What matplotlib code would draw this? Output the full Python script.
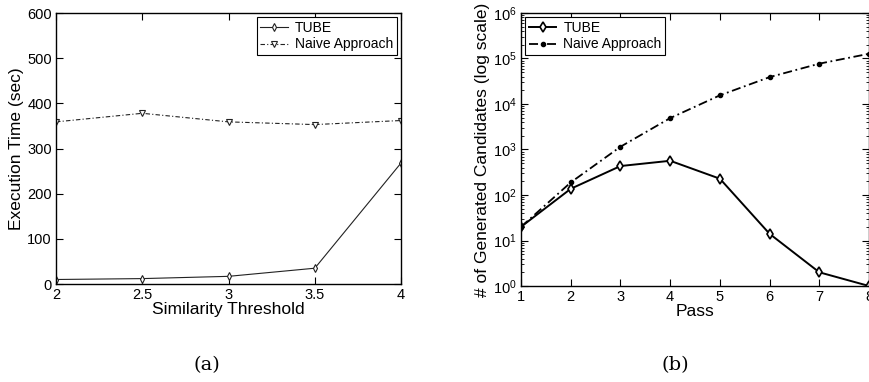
import numpy as np
import matplotlib.pyplot as plt
from matplotlib.ticker import LogLocator, NullFormatter

# (a) execution time vs similarity threshold
threshold = [2, 2.5, 3, 3.5, 4]
tube_time = [10, 12, 17, 35, 268]
naive_time = [359, 378, 359, 353, 362]

# (b) generated candidates per pass
passes = [1, 2, 3, 4, 5, 6, 7, 8]
tube_cand = [20, 137, 433, 565, 228, 14, 2, 1]
naive_cand = [20, 189, 1150, 4900, 15500, 39000, 77000, 127000]

plt.rcParams['font.family'] = ['Liberation Sans', 'DejaVu Sans']
plt.rcParams['mathtext.fontset'] = 'custom'
plt.rcParams['mathtext.rm'] = 'Liberation Sans'

fig = plt.figure(figsize=(8.7, 3.82), dpi=100)
ax1 = fig.add_axes([0.0644, 0.2565, 0.3966, 0.7094])
ax2 = fig.add_axes([0.5989, 0.2513, 0.4000, 0.7147])

# ---- (a)
ax1.plot(threshold, tube_time, color='#222222', lw=0.8, marker='d', ms=4,
         mfc='white', mec='#222222', mew=0.8, label='TUBE')
ax1.plot(threshold, naive_time, color='#222222', lw=0.8, dashes=(4, 2, 1, 2),
         marker='v', ms=4, mfc='white', mec='#222222', mew=0.8,
         label='Naive Approach')
ax1.set_xlim(2, 4)
ax1.set_ylim(0, 600)
ax1.set_xticks([2, 2.5, 3, 3.5, 4])
ax1.set_xticklabels(['2', '2.5', '3', '3.5', '4'])
ax1.set_yticks(np.arange(0, 601, 100))
ax1.set_xlabel('Similarity Threshold', fontsize=12.5, labelpad=0)
ax1.set_ylabel('Execution Time (sec)', fontsize=12.5, labelpad=2)
leg1 = ax1.legend(loc='upper right', fontsize=10, fancybox=False, edgecolor='black',
                  framealpha=1, borderaxespad=0.3, handlelength=2.0,
                  borderpad=0.25, labelspacing=0.2, handletextpad=0.5)
leg1.get_frame().set_linewidth(0.8)

# ---- (b)
ax2.semilogy(passes, tube_cand, color='black', lw=1.4, marker='d', ms=5.5,
             mfc='white', mec='black', mew=1.2, label='TUBE')
ax2.semilogy(passes, naive_cand, color='black', lw=1.3, dashes=(5, 2, 1, 2),
             marker='.', ms=6, label='Naive Approach')
ax2.set_xlim(1, 8)
ax2.set_ylim(1, 1e6)
ax2.set_xticks(passes)
ax2.yaxis.set_major_locator(LogLocator(base=10, numticks=10))
ax2.yaxis.set_minor_locator(LogLocator(base=10, subs=np.arange(2, 10), numticks=20))
ax2.yaxis.set_minor_formatter(NullFormatter())
ax2.set_xlabel('Pass', fontsize=12.5, labelpad=0)
ax2.set_ylabel('# of Generated Candidates (log scale)', fontsize=12.5, labelpad=2)
leg2 = ax2.legend(loc='upper left', fontsize=10, fancybox=False, edgecolor='black',
                  framealpha=1, borderaxespad=0.3, handlelength=2.0,
                  borderpad=0.25, labelspacing=0.2, handletextpad=0.5)
leg2.get_frame().set_linewidth(0.8)

for ax in (ax1, ax2):
    ax.tick_params(which='both', direction='in', top=True, right=True,
                   labelsize=10.5, pad=3)
    ax.tick_params(which='major', length=5, width=0.8)
    ax.tick_params(which='minor', length=2.5, width=0.6)
    for spine in ax.spines.values():
        spine.set_linewidth(1.0)

# captions
fig.text(0.238, 0.045, '(a)', ha='center', va='center', fontsize=14,
         family=['DejaVu Serif'])
fig.text(0.776, 0.045, '(b)', ha='center', va='center', fontsize=14,
         family=['DejaVu Serif'])

fig.savefig('out.png', dpi=100)
